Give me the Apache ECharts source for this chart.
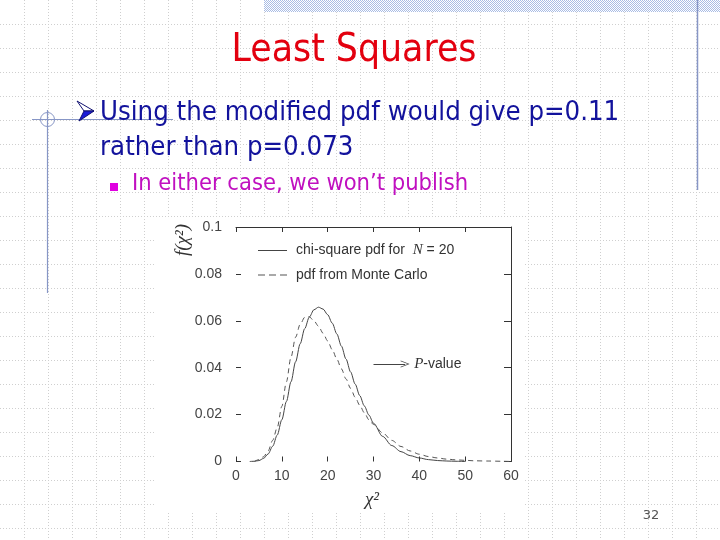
<!DOCTYPE html>
<html><head><meta charset="utf-8">
<script src="https://cdn.jsdelivr.net/npm/echarts@6/dist/echarts.min.js"></script>
<style>html,body{margin:0;padding:0;background:#fff}#c{width:720px;height:540px}</style>
</head><body><div id="c"></div><script>
// ---- data ----
const chiX = [3,4,5,6,7,8,9,10,11,12,13,14,15,16,17,18,19,20,21,22,23,24,25,26,27,28,29,30,32,34,36,38,40,42,44,46,48,50];
const chiY = [0,0.0001,0.0004,0.0013,0.0032,0.0065,0.0113,0.0178,0.0256,0.034,0.0425,0.0502,0.0567,0.0616,0.0647,0.0658,0.065,0.0626,0.059,0.0544,0.0492,0.0437,0.0382,0.033,0.0281,0.0237,0.0198,0.0163,0.0107,0.0068,0.0042,0.0025,0.0015,0.0008,0.0004,0.0002,0.0001,0];
const mcX = [4,5,6,7,8,9,10,11,12,13,14,15,16,17,18,19,20,21,22,23,24,25,26,27,28,29,30,32,34,36,38,40,42,44,46,48,50,52,55,58,60];
const mcY = [0,0.0008,0.002,0.0045,0.009,0.0145,0.0235,0.034,0.0445,0.053,0.0585,0.0615,0.0617,0.06,0.0577,0.0547,0.0514,0.0477,0.0437,0.0395,0.0352,0.0312,0.0274,0.024,0.0208,0.0178,0.0158,0.0122,0.009,0.0064,0.0045,0.0031,0.0021,0.0015,0.001,0.0007,0.0005,0.0003,0.0002,0.0001,0];
const seriesNames = ['chi-square pdf for N = 20', 'pdf from Monte Carlo'];
const xRange = [0, 60, 10];
const yRange = [0, 0.1, 0.02];
const pArrowFrom = [30, 0.0416];
const pArrowTo = [36.9, 0.0416];
const pLabel = 'P-value';
const xName = 'χ²';
const yName = 'f(χ²)';
const titleText = 'Least Squares';
const bulletLines = ['Using the modified pdf would give p=0.11', 'rather than p=0.073'];
const subBullet = 'In either case, we won’t publish';
const pageNum = '32';

// ---- helpers ----
const mctx = document.createElement('canvas').getContext('2d');
function fitSize(text, family, target, base) {
  mctx.font = base + 'px ' + family;
  return base * target / mctx.measureText(text).width;
}
const slideFont = '"DejaVu Sans Condensed","DejaVu Sans",sans-serif';
const titleSize = fitSize(titleText, slideFont, 245, 40);
const bSize = fitSize(bulletLines[0], slideFont, 520, 26);
const sSize = fitSize(subBullet, slideFont, 336, 20);

const pc = document.createElement('canvas'); pc.width = 2; pc.height = 2;
const pctx = pc.getContext('2d');
pctx.fillStyle = '#ffffff'; pctx.fillRect(0,0,2,2);
pctx.fillStyle = '#a9bce4'; pctx.fillRect(0,0,1,1); pctx.fillRect(1,1,1,1);

const deco = '#8796c6';
const g = [];
// dotted slide grid
for (let x = 24; x < 720; x += 24) g.push({type:'line', z:-30, silent:true, shape:{x1:x+0.5,y1:0,x2:x+0.5,y2:540}, style:{stroke:'#cfcfcf', lineWidth:1, lineDash:[1,2]}});
for (let y = 24; y < 540; y += 24) g.push({type:'line', z:-30, silent:true, shape:{x1:0,y1:y+0.5,x2:720,y2:y+0.5}, style:{stroke:'#cfcfcf', lineWidth:1, lineDash:[1,2]}});
// top band
g.push({type:'rect', z:-20, silent:true, shape:{x:264,y:0,width:456,height:12}, style:{fill:{image:pc, repeat:'repeat'}}});
// right vertical line
g.push({type:'line', z:-20, silent:true, shape:{x1:697.5,y1:0,x2:697.5,y2:190}, style:{stroke:deco, lineWidth:1.5}});
// left decoration
g.push({type:'line', z:-20, silent:true, shape:{x1:47.5,y1:110,x2:47.5,y2:293}, style:{stroke:deco, lineWidth:1.2}});
g.push({type:'line', z:-20, silent:true, shape:{x1:32,y1:119.5,x2:173,y2:119.5}, style:{stroke:deco, lineWidth:1.2}});
g.push({type:'circle', z:-20, silent:true, shape:{cx:47.5,cy:119.5,r:7}, style:{fill:'none', stroke:deco, lineWidth:1}});
// chart picture background
g.push({type:'rect', z:-15, silent:true, shape:{x:156,y:217,width:368,height:295}, style:{fill:'#ffffff'}});
// title
g.push({type:'text', z:10, x:354, y:51, style:{text:titleText, fill:'#e3000f', font:titleSize.toFixed(1)+'px '+slideFont, textAlign:'center', textVerticalAlign:'middle'}});
// arrow bullet
g.push({type:'polygon', z:10, shape:{points:[[77,101],[94,111],[84,111]]}, style:{fill:'#ffffff', stroke:'#101070', lineWidth:1}});
g.push({type:'polygon', z:10, shape:{points:[[84,111],[94,111],[79,121]]}, style:{fill:'#1b1bd8', stroke:'#101070', lineWidth:1}});
g.push({type:'text', z:10, x:100, y:113, style:{text:bulletLines[0], fill:'#12129c', font:bSize.toFixed(1)+'px '+slideFont, textAlign:'left', textVerticalAlign:'middle'}});
g.push({type:'text', z:10, x:100, y:148, style:{text:bulletLines[1], fill:'#12129c', font:bSize.toFixed(1)+'px '+slideFont, textAlign:'left', textVerticalAlign:'middle'}});
// sub bullet
g.push({type:'rect', z:10, shape:{x:110,y:183,width:8,height:8}, style:{fill:'#e000e0'}});
g.push({type:'text', z:10, x:132, y:184, style:{text:subBullet, fill:'#c010c0', font:sSize.toFixed(1)+'px '+slideFont, textAlign:'left', textVerticalAlign:'middle'}});
// axis names
g.push({type:'text', z:10, x:183, y:240, rotation:Math.PI/2, style:{text:yName, fill:'#333', font:'italic 19px "Liberation Serif",serif', textAlign:'center', textVerticalAlign:'middle'}});
g.push({type:'text', z:10, x:372, y:500, style:{text:xName, fill:'#333', font:'italic 19px "Liberation Serif",serif', textAlign:'center', textVerticalAlign:'middle'}});
// page number
g.push({type:'text', z:10, x:651, y:516, style:{text:pageNum, fill:'#555', font:'13px "DejaVu Sans",sans-serif', textAlign:'center', textVerticalAlign:'middle'}});

const axisCol = '#333';
const lblStyle = {color:'#444', fontSize:14, fontFamily:'"Liberation Sans",Arial,sans-serif'};
const solidIcon = 'path://M0,0H29V1H0Z';
const dashIcon = 'path://M0,0H7V1H0Z M11,0H18V1H11Z M22,0H29V1H22Z';
const chart = echarts.init(document.getElementById('c'), null, {renderer:'canvas'});
chart.setOption({
  animation:false,
  backgroundColor:'#ffffff',
  graphic:{elements:g},
  grid:{left:236, right:209, top:227, bottom:78.5, containLabel:false},
  legend:{
    orient:'vertical', left:258, top:243, padding:0, itemWidth:29, itemHeight:1, itemGap:10,
    data:[{name:seriesNames[0], icon:solidIcon}, {name:seriesNames[1], icon:dashIcon}],
    textStyle:{color:'#333', fontSize:14, fontFamily:'"Liberation Sans",Arial,sans-serif', padding:[0,0,0,4], lineHeight:14,
      rich:{i:{fontStyle:'italic', fontFamily:'"Liberation Serif",serif', fontSize:15, color:'#333'}}},
    formatter:function(n){ return n.replace(' N ', '  {i|N} '); }
  },
  xAxis:[
    {type:'value', min:xRange[0], max:xRange[1], interval:xRange[2], position:'bottom',
     axisLine:{show:false, onZero:false}, axisTick:{show:true, inside:true, length:5, lineStyle:{color:axisCol}},
     axisLabel:Object.assign({margin:8}, lblStyle), splitLine:{show:false}},
    {type:'value', min:xRange[0], max:xRange[1], interval:xRange[2], position:'top',
     axisLine:{show:true, onZero:false, lineStyle:{color:axisCol, width:1}}, axisTick:{show:true, inside:true, length:5, lineStyle:{color:axisCol}},
     axisLabel:{show:false}, splitLine:{show:false}}
  ],
  yAxis:[
    {type:'value', min:yRange[0], max:yRange[1], interval:yRange[2], position:'left',
     axisLine:{show:false, onZero:false}, axisTick:{show:true, inside:true, length:5, lineStyle:{color:axisCol}},
     axisLabel:Object.assign({margin:14}, lblStyle), splitLine:{show:false}},
    {type:'value', min:yRange[0], max:yRange[1], interval:yRange[2], position:'right',
     axisLine:{show:true, onZero:false, lineStyle:{color:axisCol, width:1}}, axisTick:{show:true, inside:true, length:7, lineStyle:{color:axisCol}},
     axisLabel:{show:false}, splitLine:{show:false}}
  ],
  series:[
    {name:seriesNames[0], type:'line', xAxisIndex:0, yAxisIndex:0, showSymbol:false, symbol:'none',
     smooth:0.3, smoothMonotone:'x',
     data:chiX.map((x,i)=>[x, chiY[i]]),
     lineStyle:{color:'#444', width:1, type:'solid'}, itemStyle:{color:'#444'},
     markLine:{silent:true, symbol:['none','path://M0,10 L5,0 L10,10 L9,10 L5,2 L1,10 Z'], symbolSize:[7,9],
       lineStyle:{color:'#444', width:1, type:'solid'},
       label:{show:true, position:'end', distance:9, formatter:function(){return pLabel.replace('P','{i|P}');},
         color:'#333', fontSize:14, fontFamily:'"Liberation Sans",Arial,sans-serif',
         rich:{i:{fontStyle:'italic', fontFamily:'"Liberation Serif",serif', fontSize:15, color:'#333'}}},
       data:[[{coord:pArrowFrom},{coord:pArrowTo}]]}},
    {name:seriesNames[1], type:'line', xAxisIndex:0, yAxisIndex:0, showSymbol:false, symbol:'none',
     smooth:0.3, smoothMonotone:'x',
     data:mcX.map((x,i)=>[x, mcY[i]]),
     lineStyle:{color:'#555', width:1, type:[5,4]}, itemStyle:{color:'#555'}}
  ]
});
</script></body></html>
